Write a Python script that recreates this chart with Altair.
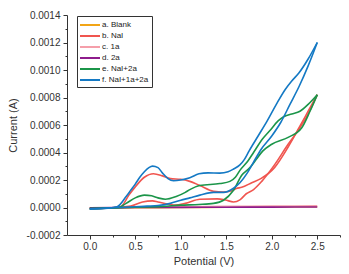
import altair as alt
import pandas as pd

# ---- data (Potential in V, Current in A) ----
labels = ["a. Blank", "b. NaI", "c. 1a", "d. 2a", "e. NaI+2a", "f. NaI+1a+2a"]
colors = ["#F2A516", "#F0554F", "#F59FAA", "#8E1C8C", "#1B9549", "#1479C4"]

blank_v = [0.0, 0.5, 1.0, 1.5, 2.0, 2.5]
blank_i = [-0.000004, -0.000002, 0.0, 0.000002, 0.000004, 0.000006]

nai_fwd_v = [0.0, 0.3, 0.35, 0.43, 0.5, 0.6, 0.7, 0.8, 0.886, 1.0, 1.1, 1.21, 1.36, 1.47,
             1.55, 1.61, 1.67, 1.78, 1.88, 2.03, 2.18, 2.3, 2.4, 2.5]
nai_fwd_i = [-0.000008, 0.0, 0.00001, 0.00009, 0.00015, 0.00022, 0.000246, 0.00023, 0.00021,
             0.000205, 0.00019, 0.00016, 0.000118, 0.000113, 0.00012, 0.000138, 0.000147,
             0.00018, 0.00021, 0.00029, 0.00044, 0.00058, 0.0007, 0.00082]
nai_rev_v = [2.5, 2.4, 2.3, 2.18, 2.03, 1.89, 1.8, 1.72, 1.65, 1.58, 1.49, 1.4, 1.21, 1.05,
             0.94, 0.87, 0.75, 0.69, 0.58, 0.45, 0.3, 0.0]
nai_rev_i = [0.00082, 0.00068, 0.00057, 0.00046, 0.00031, 0.00019, 0.00013, 0.0001, 0.000055,
             0.00004, 0.000055, 0.000063, 0.00006, 0.00003, 0.000018, 0.000024, 0.00004,
             0.000048, 0.00004, 0.00001, 0.0, -0.000008]

c1a_v = [0.0, 0.5, 1.0, 1.5, 2.0, 2.5]
c1a_i = [-0.000006, 0.000002, 0.000006, 0.000008, 0.00001, 0.000012]

d2a_v = [0.0, 0.5, 1.0, 1.5, 2.0, 2.5]
d2a_i = [-0.000002, 0.0, 0.000001, 0.000002, 0.000003, 0.000004]

e_fwd_v = [0.0, 0.32, 0.4, 0.5, 0.6, 0.68, 0.75, 0.83, 0.95, 1.05, 1.1, 1.21, 1.43, 1.54,
           1.6, 1.65, 1.74, 1.8, 1.9, 1.98, 2.07, 2.13, 2.22, 2.31, 2.4, 2.5]
e_fwd_i = [-0.000008, 0.0, 0.00003, 0.00007, 0.00009, 0.000085, 0.00007, 0.00006, 0.00008,
           0.00011, 0.00013, 0.00016, 0.000174, 0.00019, 0.00022, 0.00027, 0.00034, 0.0004,
           0.0005, 0.00056, 0.00063, 0.00066, 0.00068, 0.0007, 0.00075, 0.00082]
e_rev_v = [2.5, 2.42, 2.33, 2.18, 2.0, 1.9, 1.83, 1.76, 1.67, 1.58, 1.47, 1.36, 1.2, 1.0,
           0.8, 0.5, 0.0]
e_rev_i = [0.00082, 0.0007, 0.00058, 0.00051, 0.00046, 0.00041, 0.00035, 0.00029, 0.000234,
           0.000125, 0.000053, 0.00003, 0.000022, 0.000017, 0.000008, 0.000002, -0.000008]

f_fwd_v = [0.0, 0.2, 0.3, 0.4, 0.45, 0.5, 0.55, 0.6, 0.65, 0.69, 0.75, 0.8, 0.86, 0.92, 1.0,
           1.1, 1.2, 1.3, 1.43, 1.52, 1.58, 1.65, 1.7, 1.75, 1.85, 1.95, 2.05, 2.15, 2.22,
           2.3, 2.4, 2.5]
f_fwd_i = [-0.00001, -0.000005, 0.000005, 0.00008, 0.000125, 0.00017, 0.00022, 0.00026,
           0.00029, 0.000301, 0.00029, 0.00025, 0.00021, 0.000195, 0.0002, 0.000217, 0.000245,
           0.000252, 0.00025, 0.00026, 0.00028, 0.00031, 0.00035, 0.00041, 0.00052, 0.00063,
           0.00075, 0.00086, 0.00092, 0.00098, 0.00108, 0.0012]
f_rev_v = [2.5, 2.4, 2.3, 2.2, 2.1, 2.0, 1.88, 1.8, 1.73, 1.65, 1.58, 1.47, 1.36, 1.21, 1.1,
           1.0, 0.886, 0.75, 0.63, 0.5, 0.3, 0.0]
f_rev_i = [0.0012, 0.00103, 0.00088, 0.00075, 0.00062, 0.00052, 0.00042, 0.00033, 0.00025,
           0.00018, 0.00014, 0.00011, 0.00011, 0.00009, 0.00007, 0.000053, 0.00003, 0.000015,
           0.00001, 0.000005, 0.0, -0.00001]

y_ticks = [-0.0002, -0.0001, 0.0, 0.0001, 0.0002, 0.0003, 0.0004, 0.0005, 0.0006, 0.0007,
           0.0008, 0.0009, 0.001, 0.0011, 0.0012, 0.0013, 0.0014]
x_ticks = [0.0, 0.25, 0.5, 0.75, 1.0, 1.25, 1.5, 1.75, 2.0, 2.25, 2.5, 2.75]

series = [
    (labels[0], "f", blank_v, blank_i),
    (labels[1], "f", nai_fwd_v, nai_fwd_i),
    (labels[1], "r", nai_rev_v, nai_rev_i),
    (labels[2], "f", c1a_v, c1a_i),
    (labels[3], "f", d2a_v, d2a_i),
    (labels[4], "f", e_fwd_v, e_fwd_i),
    (labels[4], "r", e_rev_v, e_rev_i),
    (labels[5], "f", f_fwd_v, f_fwd_i),
    (labels[5], "r", f_rev_v, f_rev_i),
]
rows = []
for name, br, vs, cs in series:
    for v, c in zip(vs, cs):
        rows.append({"sample": name, "branch": name + br, "V": v, "I": c,
                     "k": labels.index(name)})
df = pd.DataFrame(rows)

font = "Liberation Sans"
ytest = "abs(datum.value/0.0002 - round(datum.value/0.0002)) < 0.001"
xtest = "abs(datum.value/0.5 - round(datum.value/0.5)) < 0.001"

chart = alt.Chart(df).mark_line(interpolate="monotone", strokeWidth=1.6).encode(
    x=alt.X("V:Q", scale=alt.Scale(domain=[-0.25, 2.75], nice=False, zero=False),
            axis=alt.Axis(title="Potential (V)", values=x_ticks,
                          labelExpr=f"{xtest} ? format(datum.value, '.1f') : ''",
                          tickSize={"condition": {"test": xtest, "value": 4}, "value": 2},
                          labelOverlap=False, labelFlush=False, grid=False,
                          labelPadding=2, titlePadding=4)),
    y=alt.Y("I:Q", scale=alt.Scale(domain=[-0.0002, 0.0014], nice=False, zero=False),
            axis=alt.Axis(title="Current (A)", values=y_ticks,
                          labelExpr=f"{ytest} ? replace(format(datum.value, '.4f'), '\u2212', '-') : ''",
                          tickSize={"condition": {"test": ytest, "value": 4}, "value": 2},
                          labelOverlap=False, labelFlush=False, grid=False,
                          labelPadding=3, titlePadding=8)),
    color=alt.Color("sample:N", sort=labels,
                    scale=alt.Scale(domain=labels, range=colors),
                    legend=alt.Legend(title=None, orient="none", legendX=10, legendY=1,
                                      symbolType="M-2,0H2", symbolSize=100,
                                      symbolOffset=4, symbolStrokeWidth=2,
                                      labelFontSize=8, labelFont=font, labelColor="#222",
                                      labelFontWeight=500,
                                      strokeColor="#333", padding=3, rowPadding=1.0,
                                      labelOffset=6, fillColor="white")),
    detail="branch:N",
    order="k:Q",
).properties(
    width=273, height=220,
    autosize=alt.AutoSizeParams(type="none"),
    padding={"left": 67, "top": 15, "right": 9, "bottom": 39},
).configure_view(stroke=None).configure_axis(
    domainColor="#333", tickColor="#333", labelColor="#333", titleColor="#333",
    labelFont=font, titleFont=font, labelFontSize=10, titleFontSize=11,
    titleFontWeight="normal", domainWidth=1, tickWidth=1,
)

chart.save("out.html", embed_options={"renderer": "svg", "actions": False})
